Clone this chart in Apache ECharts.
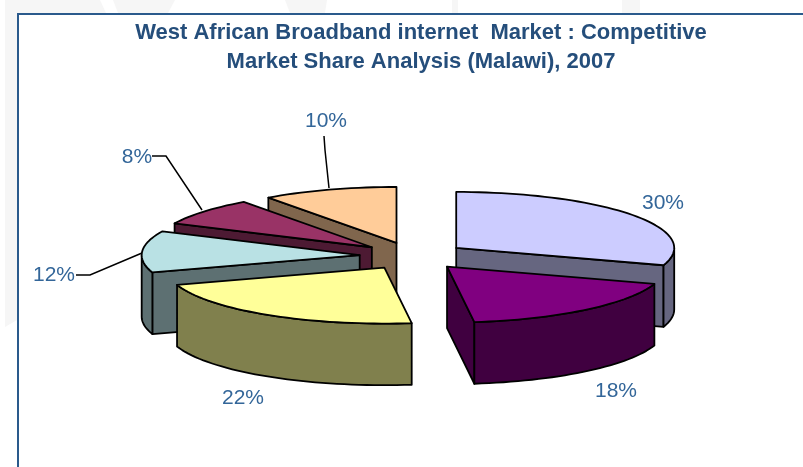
<!DOCTYPE html>
<html>
<head>
<meta charset="utf-8">
<style>html,body{margin:0;padding:0;background:#fff}#chart{width:803px;height:467px}</style>
<script src="https://cdn.jsdelivr.net/npm/echarts@6/dist/echarts.min.js"></script>
</head>
<body>
<div id="chart"></div>
<script>
// Market share of broadband providers, clockwise from twelve o'clock.
const shares = [30, 18, 22, 12, 8, 10];
const topColors = ['#CCCCFF', '#800080', '#FFFF99', '#B9E1E4', '#993366', '#FFCC99'];
const wallColors = ['#666680', '#400040', '#80804D', '#5D7072', '#4D1A33', '#80664D'];
const titleLines = ['West African Broadband internet  Market : Competitive', 'Market Share Analysis (Malawi), 2007'];

// Pie geometry in axis units: the unit circle is the rim of the pie.
const EXPLODE = 0.245;
const DEPTH = 1.1;
// Back-to-front order in which the wedges are painted.
const paintOrder = [5, 4, 3, 2, 0, 1];
// Label anchors and leader lines, in pixels.
const labelLayout = [
  { x: 663, y: 203 },
  { x: 616, y: 391 },
  { x: 243, y: 398 },
  { x: 54, y: 275, leader: [[142, 253], [90, 275], [76, 275]] },
  { x: 137, y: 157, leader: [[202, 210], [166, 156], [152, 156]] },
  { x: 326, y: 121, leader: [[329, 188], [325, 150], [324, 136]] }
];
// Faint slide watermark showing around the chart frame.
const watermarkPatches = [
  [[5, 0], [100, 0], [106, 13], [17, 13], [17, 320], [5, 327]],
  [[113, 0], [175, 0], [168, 13], [118, 13]],
  [[285, 0], [327, 0], [325, 13], [290, 13]],
  [[452, 0], [458, 0], [458, 13], [452, 13]],
  [[622, 0], [640, 0], [640, 13], [622, 13]]
];

const total = shares.reduce((a, b) => a + b, 0);
let running = 0;
const wedges = shares.map((v, i) => {
  const from = running / total * 360;
  running += v;
  return { index: i, from, to: running / total * 360 };
});
const rad = d => d * Math.PI / 180;

function arcPoints(a0, a1, ox, oy, drop) {
  const pts = [];
  const n = Math.max(2, Math.ceil((a1 - a0) / 2));
  for (let k = 0; k <= n; k++) {
    const a = rad(a0 + (a1 - a0) * k / n);
    pts.push([ox + Math.sin(a), oy + Math.cos(a) - drop]);
  }
  return pts;
}

function renderWedge(params, api) {
  const w = wedges[api.value(0)];
  const mid = rad((w.from + w.to) / 2);
  const ox = EXPLODE * Math.sin(mid), oy = EXPLODE * Math.cos(mid);
  const px = p => api.coord(p);
  const poly = (pts, fill) => ({
    type: 'polygon',
    shape: { points: pts.map(px) },
    style: { fill, stroke: '#000', lineWidth: 1.8, lineJoin: 'round' }
  });
  const face = a => {
    const rim = [ox + Math.sin(rad(a)), oy + Math.cos(rad(a))];
    return poly([[ox, oy], rim, [rim[0], rim[1] - DEPTH], [ox, oy - DEPTH]], wallColors[w.index]);
  };
  const children = [];
  // Radial faces turned towards the viewer.
  if (Math.sin(rad(w.from)) < -1e-6) children.push(face(w.from));
  if (Math.sin(rad(w.to)) > 1e-6) children.push(face(w.to));
  // Visible part of the curved outer wall.
  const a0 = Math.max(w.from, 90), a1 = Math.min(w.to, 270);
  if (a1 > a0) {
    const upper = arcPoints(a0, a1, ox, oy, 0);
    const lower = arcPoints(a0, a1, ox, oy, DEPTH).reverse();
    children.push(poly(upper.concat(lower), wallColors[w.index]));
  }
  // Top surface.
  children.push(poly([[ox, oy]].concat(arcPoints(w.from, w.to, ox, oy, 0)), topColors[w.index]));
  return { type: 'group', children };
}

const chart = echarts.init(document.getElementById('chart'), null, { renderer: 'canvas' });
chart.setOption({
  backgroundColor: '#fff',
  animation: false,
  title: {
    text: titleLines.join('\n'),
    left: 416,
    top: 13,
    textAlign: 'center',
    textStyle: { color: '#254E7B', fontFamily: 'Liberation Sans', fontWeight: 'bold', fontSize: 22, lineHeight: 29 }
  },
  grid: { left: 86, width: 654, top: 172, height: 224 },
  xAxis: { type: 'value', min: -1.5, max: 1.5, show: false },
  yAxis: { type: 'value', min: -2.5, max: 1.5, show: false },
  series: [{
    type: 'custom',
    coordinateSystem: 'cartesian2d',
    renderItem: renderWedge,
    encode: { x: 1, y: 2 },
    data: paintOrder.map(i => [i, 0, 0]),
    silent: true
  }],
  graphic: watermarkPatches.map(points => ({
    type: 'polygon', silent: true, z: -1, shape: { points }, style: { fill: '#F6F6F6' }
  })).concat([
    { type: 'polyline', silent: true, shape: { points: [[18, 467], [18, 14], [803, 14]] }, style: { stroke: '#2A5A8C', lineWidth: 2, fill: null } }
  ]).concat(labelLayout.flatMap((l, i) => {
    const items = [{
      type: 'text', silent: true, x: l.x, y: l.y,
      style: { text: shares[i] + '%', fill: '#336699', font: '21px "Liberation Sans"', textAlign: 'center', textVerticalAlign: 'middle' }
    }];
    if (l.leader) items.push({ type: 'polyline', silent: true, shape: { points: l.leader }, style: { stroke: '#000', lineWidth: 1.5, fill: null } });
    return items;
  }))
});
</script>
</body>
</html>
